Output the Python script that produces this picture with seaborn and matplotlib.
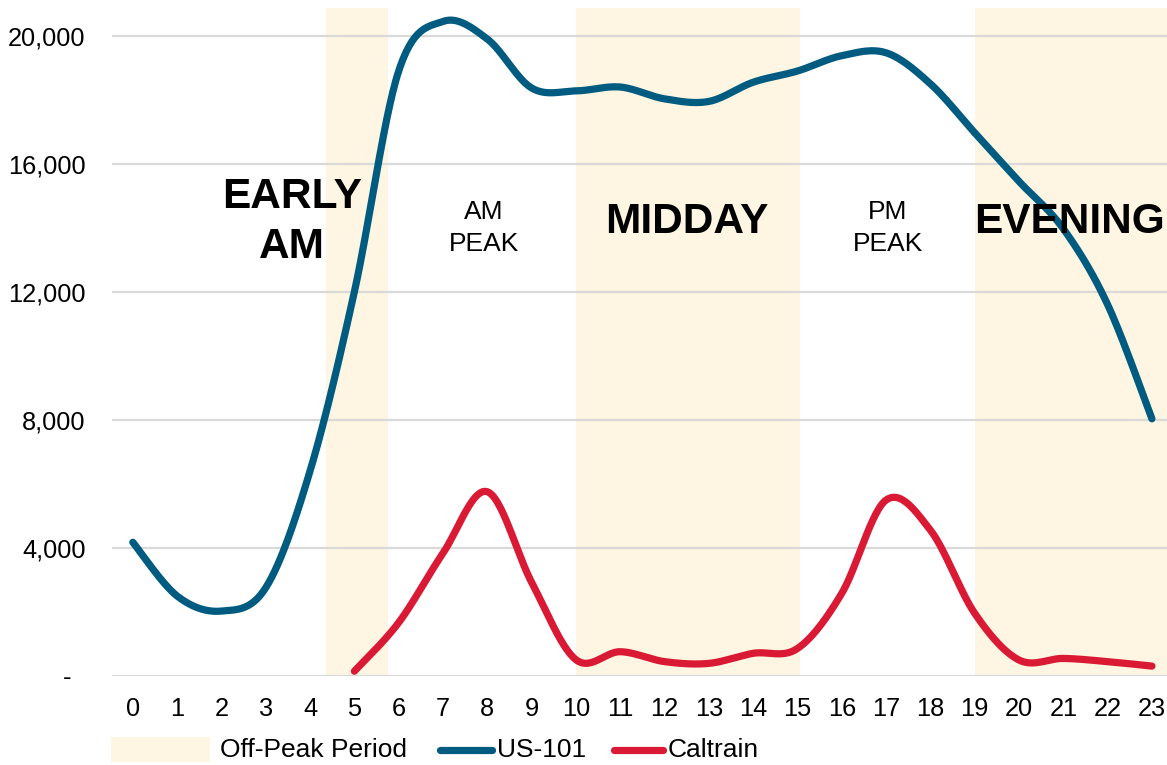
import numpy as np
import pandas as pd
import matplotlib
matplotlib.use("Agg")
import matplotlib.pyplot as plt
import seaborn as sns
from matplotlib.patches import Rectangle
from matplotlib.lines import Line2D

# ---------------- data ----------------
hours = list(range(24))
us101 = [4170, 2490, 2020, 2750, 6400, 12000, 18900, 20450, 19900, 18370,
         18280, 18400, 18030, 17950, 18550, 18900, 19380, 19470, 18500, 16970,
         15450, 13970, 11600, 8030]
caltrain_hours = list(range(5, 24))
caltrain = [140, 1660, 3830, 5750, 2920, 500, 750, 440, 385, 700,
            850, 2575, 5490, 4550, 1950, 490, 540, 440, 300]
offpeak_spans = [(4.36, 5.76), (10.0, 15.05), (19.0, 23.6)]
period_labels = ["EARLY\nAM", "AM\nPEAK", "MIDDAY", "PM\nPEAK", "EVENING"]
period_x = [3.59, 7.92, 12.5, 17.04, 21.15]
period_y = [14180, 13990, 14180, 13990, 14180]
period_bold = [True, False, True, False, True]
ytick_values = [0, 4000, 8000, 12000, 16000, 20000]
ytick_labels = ["-  ", "4,000", "8,000", "12,000", "16,000", "20,000"]
series_names = ["US-101", "Caltrain"]
series_colors = ["#005B80", "#DA1A35"]
band_color = "#FEF6E2"


def excel_smooth(x, y, n=30):
    """Excel-style smoothed line (cubic Bezier through every data point)."""
    P = np.column_stack([np.asarray(x, float), np.asarray(y, float)])
    E = np.vstack([P[0], P, P[-1]])
    out = []
    for i in range(len(P) - 1):
        p0, p1, p2, p3 = E[i], E[i + 1], E[i + 2], E[i + 3]
        c1 = p1 + (p2 - p0) / 6.0
        c2 = p2 - (p3 - p1) / 6.0
        t = np.linspace(0, 1, n, endpoint=(i == len(P) - 2))[:, None]
        out.append((1 - t) ** 3 * p1 + 3 * (1 - t) ** 2 * t * c1
                   + 3 * (1 - t) * t ** 2 * c2 + t ** 3 * p2)
    return np.vstack(out)


frames = []
for name, xs, ys in [("US-101", hours, us101), ("Caltrain", caltrain_hours, caltrain)]:
    c = excel_smooth(xs, ys)
    frames.append(pd.DataFrame({"hour": c[:, 0], "value": c[:, 1], "series": name}))
df = pd.concat(frames, ignore_index=True)

# ---------------- figure ----------------
sns.set_theme(style="white")
plt.rcParams["font.family"] = ["Liberation Sans", "DejaVu Sans"]
plt.rcParams["text.color"] = "black"

W, H = 1167, 765
fig = plt.figure(figsize=(W / 100, H / 100), dpi=100)
ax = fig.add_axes([112 / W, 1 - 675.7 / H, (W - 112) / W, (675.7 - 8) / H])

for a, b in offpeak_spans:
    ax.axvspan(a, b, color=band_color, lw=0, zorder=0)

sns.lineplot(data=df, x="hour", y="value", hue="series", hue_order=series_names,
             palette=series_colors, sort=False, estimator=None, legend=False,
             linewidth=5.2, ax=ax, zorder=3)
for ln in ax.get_lines():
    ln.set_solid_capstyle("round")
    ln.set_solid_joinstyle("round")

ax.set_xlim(-0.47, 23.34)
ax.set_ylim(0, 20870)
ax.set_xticks(hours)
ax.set_xticklabels([str(h) for h in hours])
ax.set_yticks(ytick_values)
ax.set_yticklabels(ytick_labels)
ax.tick_params(axis="both", length=0, labelsize=18.3, colors="black")
ax.tick_params(axis="y", pad=19)
ax.tick_params(axis="x", pad=15)
ax.yaxis.grid(True, color="#D9D9D9", linewidth=1.6, zorder=1)
ax.xaxis.grid(False)
ax.set_axisbelow(True)
for s in ax.spines.values():
    s.set_visible(False)
ax.set_xlabel("")
ax.set_ylabel("")

for lab, x, y, bold in zip(period_labels, period_x, period_y, period_bold):
    ax.text(x, y, lab, ha="center", va="center",
            fontsize=30.5 if bold else 19,
            fontweight="bold" if bold else "normal",
            linespacing=1.3 if bold else 1.4, color="black", zorder=4)

# ---------------- legend (bottom) ----------------
ly = 1 - 750 / H
fs_leg = 19
fig.patches.append(Rectangle((111 / W, 1 - 762 / H), 99 / W, 25 / H,
                             transform=fig.transFigure, color=band_color, lw=0))
fig.text(220 / W, ly, "Off-Peak Period", ha="left", va="center", fontsize=fs_leg)
fig.lines.append(Line2D([440 / W, 492 / W], [ly, ly], transform=fig.transFigure,
                        color=series_colors[0], lw=5.2, solid_capstyle="round"))
fig.text(497 / W, ly, "US-101", ha="left", va="center", fontsize=fs_leg)
fig.lines.append(Line2D([614 / W, 663 / W], [ly, ly], transform=fig.transFigure,
                        color=series_colors[1], lw=5.2, solid_capstyle="round"))
fig.text(668 / W, ly, "Caltrain", ha="left", va="center", fontsize=fs_leg)

fig.savefig("out.png", dpi=100)
